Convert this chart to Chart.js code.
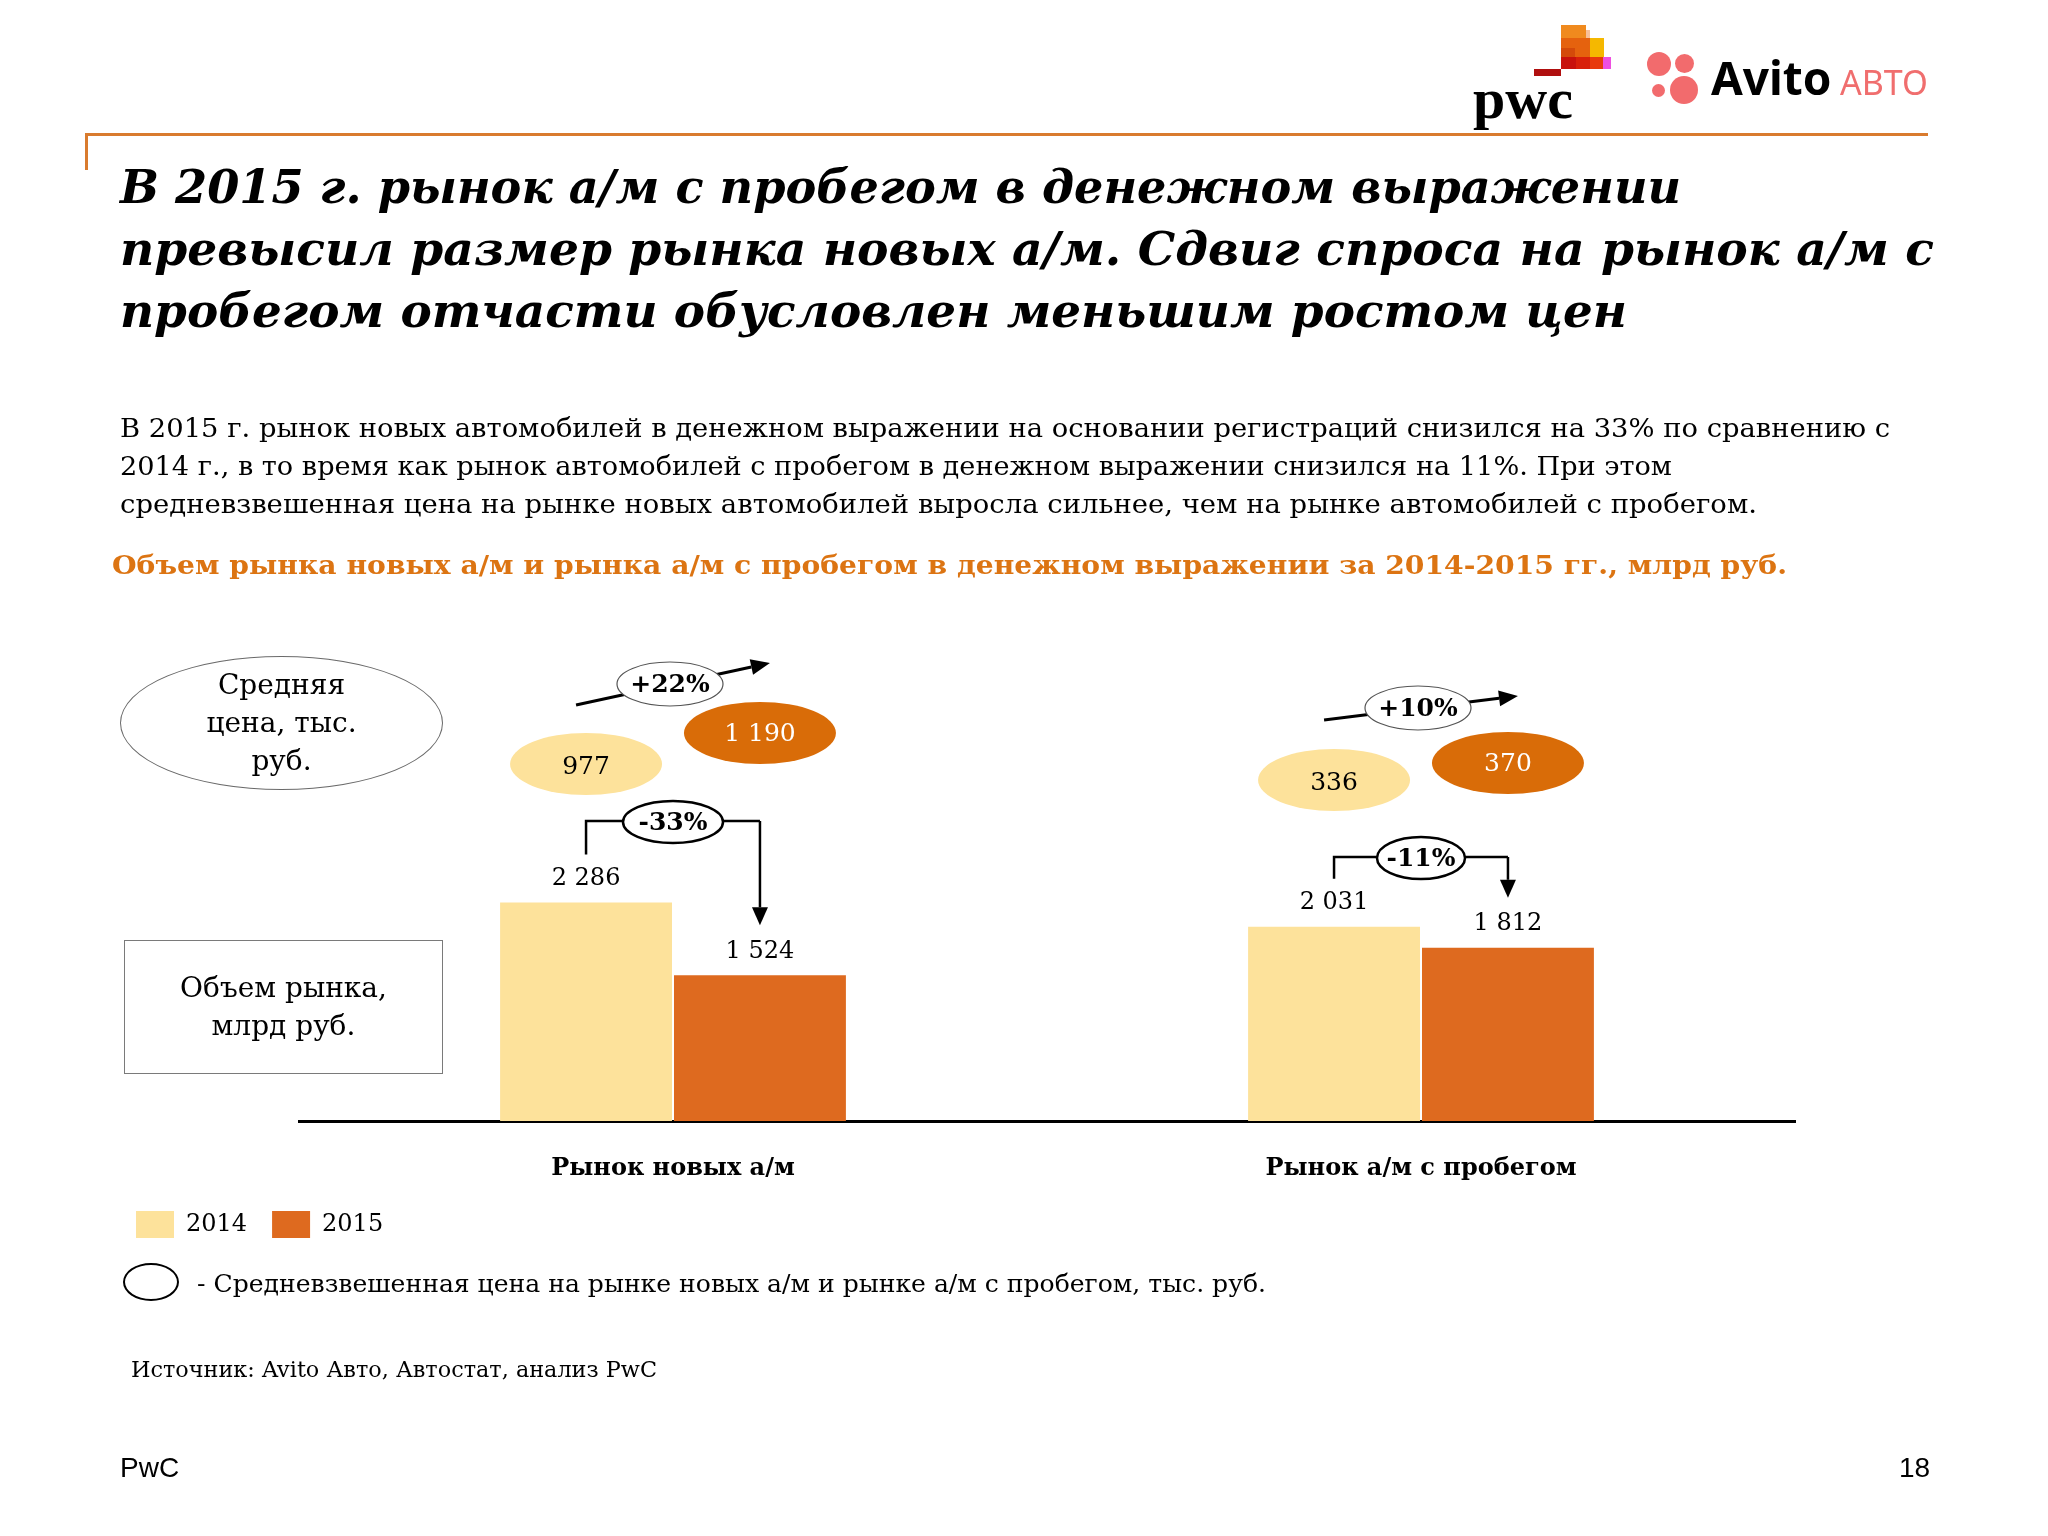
<!DOCTYPE html>
<html lang="ru">
<head>
<meta charset="utf-8">
<title>Объем рынка новых а/м и рынка а/м с пробегом</title>
<script src="https://cdn.jsdelivr.net/npm/chart.js@4.4.1/dist/chart.umd.min.js"></script>
<style>
  html, body { margin: 0; padding: 0; background: #fff; }
  #slide { position: relative; width: 2048px; height: 1536px; overflow: hidden; font-family: 'DejaVu Serif', serif; color: #000; }
  #chartBox { position: absolute; left: 0; top: 0; width: 2048px; height: 1536px; }
  .t { position: absolute; white-space: nowrap; transform-origin: 0 0; }
  .title { left: 120px; font-weight: bold; font-style: italic; font-size: 46px; line-height: 62px; }
  .body { left: 120px; font-size: 26px; line-height: 38px; }
  .blk { position: absolute; }
</style>
</head>
<body>
<div id="slide">
  <div id="chartBox"><canvas id="chart"></canvas></div>

  <!-- pwc logo -->
  <div class="blk" style="left:1561px;top:25px;width:25px;height:13px;background:#f08a1e"></div>
  <div class="blk" style="left:1586px;top:30px;width:4px;height:8px;background:#f8c09a"></div>
  <div class="blk" style="left:1561px;top:38px;width:29px;height:19px;background:#e5620e"></div>
  <div class="blk" style="left:1561px;top:48px;width:14px;height:9px;background:#d44a0a"></div>
  <div class="blk" style="left:1590px;top:38px;width:14px;height:19px;background:#f5b800"></div>
  <div class="blk" style="left:1561px;top:57px;width:15px;height:12px;background:#c8120c"></div>
  <div class="blk" style="left:1576px;top:57px;width:14px;height:12px;background:#d8200a"></div>
  <div class="blk" style="left:1590px;top:57px;width:13px;height:12px;background:#e83a0c"></div>
  <div class="blk" style="left:1603px;top:57px;width:8px;height:12px;background:#ee4fe0"></div>
  <div class="blk" style="left:1534px;top:69px;width:27px;height:7px;background:#b00f0f"></div>
  <div class="t" style="left:1473px;top:70px;font-family:'Liberation Serif',serif;font-weight:bold;font-size:58px;line-height:58px">pwc</div>

  <!-- Avito logo -->
  <div class="blk" style="left:1647px;top:52px;width:24px;height:24px;border-radius:50%;background:#f26b6d"></div>
  <div class="blk" style="left:1675px;top:54px;width:19px;height:19px;border-radius:50%;background:#f26b6d"></div>
  <div class="blk" style="left:1652px;top:84px;width:13px;height:13px;border-radius:50%;background:#f26b6d"></div>
  <div class="blk" style="left:1670px;top:76px;width:28px;height:28px;border-radius:50%;background:#f26b6d"></div>
  <div class="t" style="left:1711px;top:54px;font-family:'Noto Sans',sans-serif;font-weight:bold;font-size:46px;line-height:46px">Avito</div>
  <div class="t" style="left:1840px;top:65px;font-family:'Noto Sans',sans-serif;font-size:34px;line-height:34px;color:#f06e6e">АВТО</div>

  <!-- orange rule -->
  <div class="blk" style="left:85px;top:133px;width:1843px;height:3px;background:#d97b2e"></div>
  <div class="blk" style="left:85px;top:133px;width:3px;height:37px;background:#d97b2e"></div>

  <div class="t title" style="top:156px" data-w="1561">В 2015 г. рынок а/м с пробегом в денежном выражении</div>
  <div class="t title" style="top:218px" data-w="1814">превысил размер рынка новых а/м. Сдвиг спроса на рынок а/м с</div>
  <div class="t title" style="top:280px" data-w="1507">пробегом отчасти обусловлен меньшим ростом цен</div>

  <div class="t body" style="top:409px" data-w="1770">В 2015 г. рынок новых автомобилей в денежном выражении на основании регистраций снизился на 33% по сравнению с</div>
  <div class="t body" style="top:447px" data-w="1552">2014 г., в то время как рынок автомобилей с пробегом в денежном выражении снизился на 11%. При этом</div>
  <div class="t body" style="top:485px" data-w="1637">средневзвешенная цена на рынке новых автомобилей выросла сильнее, чем на рынке автомобилей с пробегом.</div>

  <div class="t body" style="left:112px;top:546px;font-weight:bold;color:#dc7412" data-w="1675">Объем рынка новых а/м и рынка а/м с пробегом в денежном выражении за 2014-2015 гг., млрд руб.</div>

  <!-- row captions -->
  <div class="blk" style="left:120px;top:656px;width:323px;height:134px;border:1.5px solid #6a6a6a;border-radius:50%;box-sizing:border-box;display:flex;align-items:center;justify-content:center;text-align:center;font-size:28px;line-height:38px">Средняя<br>цена, тыс.<br>руб.</div>
  <div class="blk" style="left:124px;top:940px;width:319px;height:134px;border:1.5px solid #7a7a7a;box-sizing:border-box;display:flex;align-items:center;justify-content:center;text-align:center;font-size:28px;line-height:38px">Объем рынка,<br>млрд руб.</div>

  <!-- price note -->
  <div class="blk" style="left:123px;top:1263px;width:56px;height:38px;border:2px solid #000;border-radius:50%;box-sizing:border-box"></div>
  <div class="t" style="left:197px;top:1272px;font-size:24px;line-height:24px" data-w="1069">- Средневзвешенная цена на рынке новых а/м и рынке а/м с пробегом, тыс. руб.</div>

  <div class="t" style="left:131px;top:1359px;font-size:22px;line-height:22px" data-w="526">Источник: Avito Авто, Автостат, анализ PwC</div>

  <div class="t" style="left:120px;top:1454px;font-family:'Liberation Sans',sans-serif;font-size:28px;line-height:28px">PwC</div>
  <div class="t" style="left:1899px;top:1454px;font-family:'Liberation Sans',sans-serif;font-size:28px;line-height:28px">18</div>
</div>

<script>
// данные
const categories = ['Рынок новых а/м', 'Рынок а/м с пробегом'];
const years = ['2014', '2015'];
const volume2014 = [2286, 2031];   // млрд руб.
const volume2015 = [1524, 1812];
const price2014 = [977, 336];      // тыс. руб.
const price2015 = [1190, 370];

const light = '#fde29b';
const dark = '#de6a1f';
const darkEllipse = '#d96c08';

// positions of the callouts (px)
const priceY = [[764, 733], [780, 763]];
const growthY = [[705, 663], [720, 696]];
const bracketY = [821, 857];

function fmt(v) {
    return String(v).replace(/\B(?=(\d{3})+(?!\d))/g, ' ');
}
function pct(a, b) {
    const p = Math.round((b / a - 1) * 100);
    return (p > 0 ? '+' : '') + p + '%';
}
function ellipse(ctx, x, y, rx, ry, fill, stroke, lw) {
    ctx.beginPath();
    ctx.ellipse(x, y, rx, ry, 0, 0, Math.PI * 2);
    if (fill) { ctx.fillStyle = fill; ctx.fill(); }
    if (stroke) { ctx.strokeStyle = stroke; ctx.lineWidth = lw; ctx.stroke(); }
}
function label(ctx, s, x, y, font, color) {
    ctx.font = font;
    ctx.fillStyle = color;
    ctx.textAlign = 'center';
    ctx.textBaseline = 'middle';
    ctx.fillText(s, x, y);
}
function arrow(ctx, x0, y0, x1, y1, lw, len, half) {
    const a = Math.atan2(y1 - y0, x1 - x0);
    const bx = x1 - len * Math.cos(a), by = y1 - len * Math.sin(a);
    ctx.strokeStyle = '#000';
    ctx.lineWidth = lw;
    ctx.beginPath();
    ctx.moveTo(x0, y0);
    ctx.lineTo(bx, by);
    ctx.stroke();
    ctx.fillStyle = '#000';
    ctx.beginPath();
    ctx.moveTo(x1, y1);
    ctx.lineTo(bx + half * Math.sin(a), by - half * Math.cos(a));
    ctx.lineTo(bx - half * Math.sin(a), by + half * Math.cos(a));
    ctx.closePath();
    ctx.fill();
}

const callouts = {
    id: 'callouts',
    afterDatasetsDraw(chart) {
        const ctx = chart.ctx;
        const m0 = chart.getDatasetMeta(0).data;
        const m1 = chart.getDatasetMeta(1).data;
        const serif = "'DejaVu Serif', serif";
        ctx.save();

        // values above bars
        chart.data.datasets.forEach((ds, i) => {
            chart.getDatasetMeta(i).data.forEach((bar, j) => {
                label(ctx, fmt(ds.data[j]), bar.x, bar.y - 24, '24px ' + serif, '#000');
            });
        });

        categories.forEach((c, j) => {
            const a = m0[j], b = m1[j];

            // growth of the average price
            const gx0 = a.x - 10, gx1 = b.x + 10;
            arrow(ctx, gx0, growthY[j][0], gx1, growthY[j][1], 3, 19, 8);
            const gx = (gx0 + gx1) / 2 - 3, gy = (growthY[j][0] + growthY[j][1]) / 2;
            ellipse(ctx, gx, gy, 53, 22, '#fff', '#555', 1.2);
            label(ctx, pct(price2014[j], price2015[j]), gx, gy + 1, 'bold 25px ' + serif, '#000');

            // price ellipses
            ellipse(ctx, a.x, priceY[j][0], 76, 31, light);
            label(ctx, fmt(price2014[j]), a.x, priceY[j][0] + 3, '25px ' + serif, '#000');
            ellipse(ctx, b.x, priceY[j][1], 76, 31, darkEllipse);
            label(ctx, fmt(price2015[j]), b.x, priceY[j][1] + 1, '25px ' + serif, '#fff');

            // volume change bracket
            const hy = bracketY[j];
            ctx.strokeStyle = '#000';
            ctx.lineWidth = 2.5;
            ctx.beginPath();
            ctx.moveTo(a.x, a.y - 48);
            ctx.lineTo(a.x, hy);
            ctx.lineTo(b.x, hy);
            ctx.stroke();
            arrow(ctx, b.x, hy, b.x, b.y - 50, 2.5, 18, 8);
            const rx = j === 0 ? 50 : 44;
            ellipse(ctx, (a.x + b.x) / 2, hy + 1, rx, 21, '#fff', '#000', 2.5);
            label(ctx, pct(volume2014[j], volume2015[j]), (a.x + b.x) / 2, hy + 2, 'bold 25px ' + serif, '#000');
        });
        ctx.restore();
    }
};

Chart.defaults.font.family = "'DejaVu Serif', serif";
Chart.defaults.color = '#000';

new Chart(document.getElementById('chart'), {
    type: 'bar',
    data: {
        labels: categories,
        datasets: [{
                label: years[0],
                data: volume2014,
                backgroundColor: light,
                categoryPercentage: 0.465,
                barPercentage: 0.9885
            },
            {
                label: years[1],
                data: volume2015,
                backgroundColor: dark,
                categoryPercentage: 0.465,
                barPercentage: 0.9885
            }
        ]
    },
    options: {
        responsive: true,
        maintainAspectRatio: false,
        animation: false,
        layout: {
            padding: { left: 111, right: 253, top: 882, bottom: 288 }
        },
        scales: {
            x: {
                z: 1,
                grid: { display: false, drawTicks: false },
                border: { display: true, color: '#000', width: 3 },
                ticks: { font: { size: 24, weight: 'bold' }, color: '#000', padding: 33 },
                afterFit: function(scale) { scale.height = 65; }
            },
            y: {
                min: 0,
                max: 2500,
                ticks: { display: false },
                grid: { display: false },
                border: { display: false },
                afterFit: function(scale) { scale.width = 188; }
            }
        },
        plugins: {
            legend: {
                position: 'bottom',
                align: 'start',
                labels: { boxWidth: 38, boxHeight: 27, padding: 25, font: { size: 24 }, color: '#000' }
            },
            tooltip: { enabled: false }
        }
    },
    plugins: [callouts]
});

// stretch text lines to the widths of the original slide
document.querySelectorAll('[data-w]').forEach(el => {
    const w = el.getBoundingClientRect().width;
    el.style.transform = 'scaleX(' + (Number(el.dataset.w) / w) + ')';
});
</script>
</body>
</html>
